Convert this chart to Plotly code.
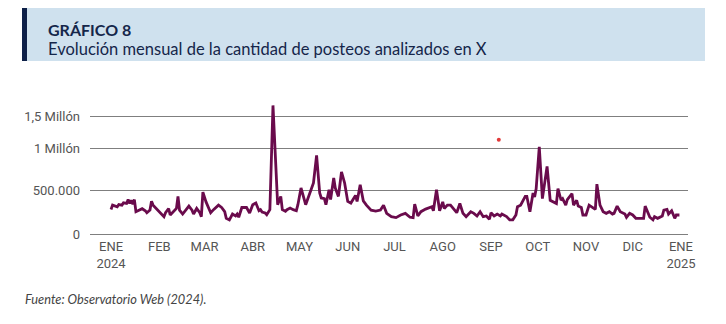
import numpy as np
import pandas as pd
import plotly.graph_objects as go

# ---------------- data ----------------
# day index counted from 2024-01-01, value in thousands of posts
dias = [0, 1, 4, 5, 7, 8, 10, 11, 12, 13, 14, 15, 16, 18, 20, 22, 23, 25, 26, 27, 29, 31, 34, 35, 37, 38, 40, 42, 43, 44,
        46, 48, 50, 52, 53, 55, 57, 58, 59, 61, 64, 66, 69, 71, 73, 74, 76, 78, 80, 81, 82, 84, 87,
        89, 91, 93, 95, 96, 97, 99, 100, 102, 104, 107, 108, 109, 110, 112, 113, 115, 117, 119, 120, 122, 125, 127,
        129, 130, 132, 134, 135, 137, 138, 140, 141, 143, 144, 146, 148, 150, 152, 154, 156, 157, 158, 160, 162,
        164, 167, 170, 173, 175, 177, 180, 183, 186, 189, 192, 194, 195, 197, 199, 202, 206, 207, 209, 211, 213, 214,
        216, 218, 221, 222, 224, 226, 228, 231, 233, 235, 237, 239, 241, 243, 244, 246, 248, 250, 251, 254, 256, 258,
        260, 261, 263, 266, 267, 269, 271, 272, 273, 275, 277, 278, 280, 282, 285, 286, 287, 289, 290, 292, 293, 296,
        297, 299, 300, 302, 303, 305, 307, 309, 311, 312, 314, 316, 318, 320, 322, 323, 325, 327, 328, 330, 331, 333,
        335, 337, 339, 342, 343, 345, 346, 348, 349, 351, 353, 354, 355, 357, 358, 359, 360, 362, 363, 365]
posteos_miles = [282, 331, 312, 338, 331, 357, 350, 395, 350, 387, 342, 395, 256, 274, 290, 267, 244, 274, 376, 331, 293,
                 244, 199, 244, 293, 218, 256, 293, 432, 274,
                 229, 274, 320, 274, 229, 293, 244, 199, 481, 368, 244, 282, 331, 304, 256, 180, 162, 229, 207, 229, 192,
                 304, 304,
                 241, 336, 355, 267, 279, 252, 241, 221, 279, 1670, 336, 374, 431, 279, 260, 279, 298, 279, 267, 336, 529,
                 336, 431,
                 529, 589, 920, 470, 413, 406, 336, 508, 395, 649, 529, 431, 721, 589, 374, 355, 413, 442, 374, 568, 380,
                 331, 274, 263, 274, 331, 237, 199, 188, 218, 237, 192, 188, 342, 207, 256, 286, 312, 267, 508, 267, 368,
                 293,
                 331, 331, 274, 244, 350, 237, 199, 256, 237, 207, 256, 199, 207, 169, 244, 207, 229, 207, 229, 199, 162,
                 162,
                 218, 312, 331, 432, 432, 256, 470, 425, 520, 1030, 406, 541, 787, 387, 357, 350, 520, 387, 406, 331, 395,
                 462,
                 331, 387, 320, 304, 218, 218, 331, 304, 282, 575, 331, 256, 237, 256, 229, 237, 320, 256, 244, 229, 192,
                 237,
                 218, 180, 180, 180, 320, 218, 192, 162, 199, 180, 199, 207, 274, 282, 229, 244, 267, 180, 218, 218]

# stray red dot present in the reference
punto_dia = [249]
punto_miles = [1139]

y_tick_values = [0, 500_000, 1_000_000, 1_500_000]
y_tick_labels = ["0", "500.000", "1 Millón", "1,5 Millón"]
mes_ticks = ["2024-01-01", "2024-02-01", "2024-03-01", "2024-04-01", "2024-05-01", "2024-06-01", "2024-07-01",
             "2024-08-01", "2024-09-01", "2024-10-01", "2024-11-01", "2024-12-01", "2025-01-01"]
mes_labels = ["ENE<br>2024", "FEB", "MAR", "ABR", "MAY", "JUN", "JUL", "AGO", "SEP", "OCT", "NOV", "DIC",
              "ENE<br>2025"]

# ---------------- scale (the original axis is not evenly spaced) ----------------
knots_val = [0, 500_000, 1_000_000, 1_500_000, 2_000_000]
knots_pos = [0, 43.6, 85.3, 117.6, 149.9]


def escala(v):
    return np.interp(np.asarray(v, dtype=float), knots_val, knots_pos)


base = pd.Timestamp("2024-01-01")
fechas = base + pd.to_timedelta(dias, unit="D")
fechas_p = base + pd.to_timedelta(punto_dia, unit="D")

fig = go.Figure()
fig.add_trace(go.Scatter(
    x=fechas, y=escala(np.array(posteos_miles) * 1000), mode="lines",
    line=dict(color="#6a0b4c", width=2.8), hoverinfo="skip", showlegend=False))
fig.add_trace(go.Scatter(
    x=fechas_p, y=escala(np.array(punto_miles) * 1000), mode="markers",
    marker=dict(color="#e23a3a", size=4), hoverinfo="skip", showlegend=False))

W, H = 726, 324
ML, MR, MT, MB = 90, 38, 102, 90
PW, PH = W - ML - MR, H - MT - MB


def px(x):
    return (x - ML) / PW


def py(y):
    return (H - MB - y) / PH


fig.update_layout(
    width=W, height=H,
    margin=dict(l=ML, r=MR, t=MT, b=MB, pad=0),
    paper_bgcolor="white", plot_bgcolor="white",
    font=dict(family="Roboto, sans-serif", color="#555555", size=13),
    xaxis=dict(
        type="date",
        range=["2023-12-18 12:00", "2025-01-05 12:00"],
        tickvals=mes_ticks, ticktext=mes_labels,
        showgrid=False, zeroline=False, showline=False, ticks="",
        tickfont=dict(family="Roboto, sans-serif", size=13, color="#555555"),
        ticklabelstandoff=3,
    ),
    yaxis=dict(
        range=[0, 132],
        tickvals=list(escala(y_tick_values)), ticktext=y_tick_labels,
        showgrid=True, gridcolor="#7f7f7f", gridwidth=1,
        zeroline=True, zerolinecolor="#7f7f7f", zerolinewidth=1,
        showline=False, ticks="",
        tickfont=dict(family="Roboto, sans-serif", size=13, color="#555555"),
        ticklabelstandoff=9,
    ),
    shapes=[
        dict(type="rect", xref="paper", yref="paper", x0=px(22), x1=px(705), y0=py(61), y1=py(8),
             fillcolor="#cfe1ee", line=dict(width=0), layer="below"),
        dict(type="rect", xref="paper", yref="paper", x0=px(22), x1=px(27), y0=py(61), y1=py(8),
             fillcolor="#0e2048", line=dict(width=0), layer="below"),
    ],
    annotations=[
        dict(text="<b>GRÁFICO 8</b>", xref="paper", yref="paper", x=px(46), y=py(29.5),
             xanchor="left", yanchor="middle", showarrow=False,
             font=dict(family="Lato, sans-serif", size=16, color="#15264a")),
        dict(text="Evolución mensual de la cantidad de posteos analizados en X", xref="paper", yref="paper",
             x=px(46), y=py(49), xanchor="left", yanchor="middle", showarrow=False,
             font=dict(family="Lato, sans-serif", size=16.5, color="#15264a")),
        dict(text="<i>Fuente: Observatorio Web (2024).</i>", xref="paper", yref="paper",
             x=px(23), y=py(299), xanchor="left", yanchor="middle", showarrow=False,
             font=dict(family="Lato, sans-serif", size=12.8, color="#444444")),
    ],
)

fig.write_html("out.html")
